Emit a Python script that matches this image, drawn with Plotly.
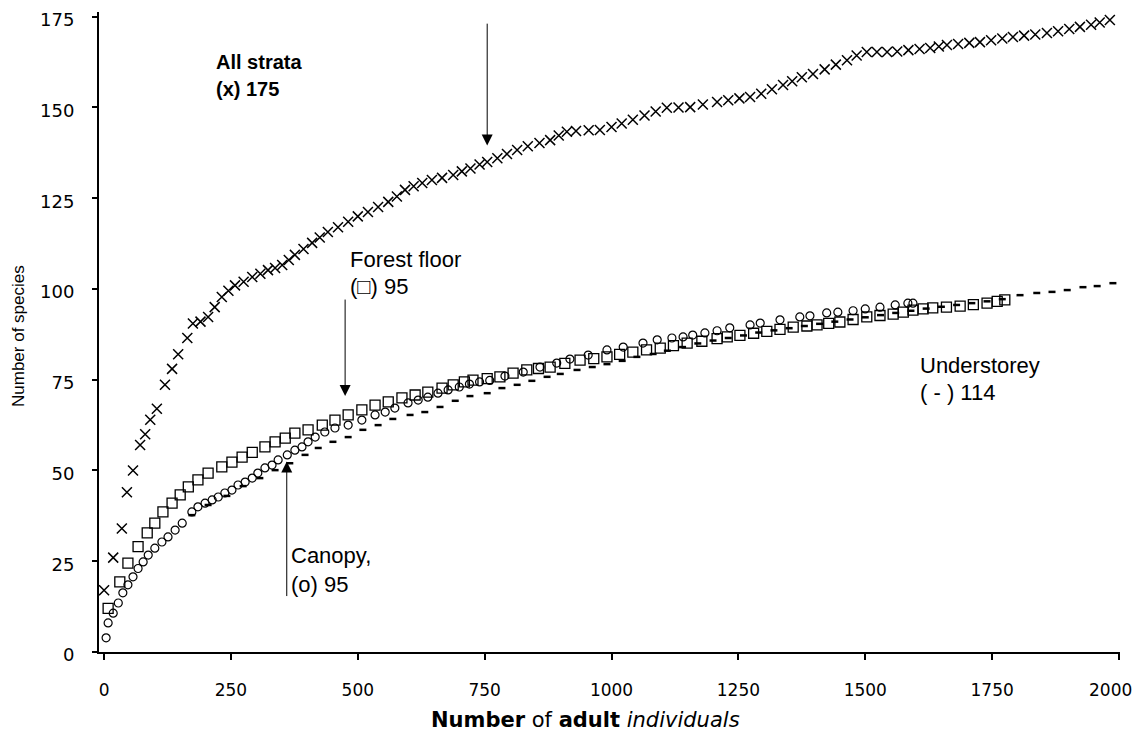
import plotly.graph_objects as go

# ---- data ----
all_x = [0, 18, 35, 45, 57, 71, 81, 91, 104, 120, 134, 146, 164, 175, 190, 205, 218, 232, 245, 258,
         275, 292, 308, 323, 337, 351, 364, 376, 393, 410, 425, 441, 461, 481, 500, 520, 540, 560,
         577, 593, 610, 627, 646, 666, 688, 705, 722, 740, 755, 775, 794, 814, 835, 858, 879, 896,
         912, 930, 955, 977, 1000, 1020, 1042, 1065, 1087, 1109, 1132, 1155, 1180, 1208, 1230,
         1252, 1273, 1295, 1316, 1338, 1356, 1375, 1397, 1420, 1442, 1464, 1483, 1503, 1523, 1543,
         1563, 1585, 1607, 1628, 1645, 1661, 1683, 1705, 1726, 1748, 1770, 1791, 1813, 1835, 1858,
         1880, 1902, 1923, 1945, 1962, 1982]
all_y = [17, 26, 34, 44, 50, 57, 60, 64, 67, 73.6, 78, 82, 86.5, 90.5, 91, 92.3, 95, 97.8, 99.5, 101,
         102, 103.3, 104.2, 105.2, 105.8, 106.6, 108, 109.4, 111, 112.7, 114.2, 115.7, 117, 118.5,
         120, 121.2, 122.6, 124, 125.5, 127.3, 128.3, 129.2, 130, 130.6, 131.4, 132.4, 133.2, 134.3,
         135, 136, 137.2, 138.3, 139.3, 140.2, 141, 142.3, 143.3, 143.5, 143.7, 143.8, 144.6, 145.6,
         146.6, 147.8, 148.9, 149.9, 150, 150.1, 150.8, 151.5, 152, 152.5, 152.9, 153.8, 155, 156.2,
         157.2, 158.3, 159.2, 160.5, 161.8, 163, 164.3, 165.3, 165.3, 165.3, 165.4, 165.8, 166.1,
         166.4, 166.8, 167.2, 167.5, 167.8, 168, 168.5, 169, 169.4, 169.8, 170.1, 170.5, 171, 171.6,
         172.2, 172.8, 173.4, 174.1]

floor_x = [8, 31, 47, 67, 85, 100, 116, 134, 150, 166, 185, 205, 232, 252, 272, 292, 317, 337, 357,
           376, 402, 430, 455, 481, 508, 534, 560, 587, 613, 638, 666, 688, 710, 727, 755, 780, 806,
           833, 856, 879, 908, 938, 965, 991, 1016, 1042, 1069, 1096, 1122, 1149, 1178, 1208, 1228,
           1253, 1280, 1306, 1332, 1358, 1385, 1405, 1428, 1450, 1476, 1503, 1529, 1555, 1575, 1594,
           1614, 1633, 1660, 1687, 1713, 1740, 1760, 1775]
floor_y = [12, 19.3, 24.5, 29, 32.8, 35.5, 38.6, 41, 43.3, 45.5, 47.4, 49.3, 51, 52.3, 53.7, 55, 56.5,
           57.9, 58.9, 60.3, 61.2, 62.5, 63.9, 65.3, 66.7, 68, 68.9, 70, 70.8, 71.6, 72.7, 73.6, 74.4,
           74.9, 75.3, 75.8, 76.8, 77.7, 78.1, 78.5, 79.5, 80.4, 80.8, 81.3, 82, 82.6, 83.2, 83.7, 84.4,
           85.1, 85.6, 86.3, 86.8, 87.2, 87.8, 88.3, 88.9, 89.5, 89.8, 90.1, 90.5, 90.9, 91.6, 92.3,
           92.7, 93.1, 93.6, 94.2, 94.5, 94.8, 95, 95.3, 95.7, 96.1, 96.6, 97]

canopy_x = [4, 8, 18, 28, 37, 47, 57, 67, 77, 87, 100, 114, 126, 140, 154, 173, 185, 199, 213, 225,
            238, 252, 264, 278, 292, 303, 317, 331, 343, 361, 376, 390, 402, 416, 435, 455, 481, 508,
            534, 554, 573, 599, 619, 638, 658, 678, 700, 720, 740, 760, 790, 826, 859, 892, 918, 954,
            991, 1023, 1062, 1090, 1119, 1141, 1160, 1184, 1208, 1233, 1273, 1293, 1332, 1371, 1391,
            1424, 1446, 1476, 1500, 1529, 1559, 1584, 1594]
canopy_y = [3.9, 8, 10.7, 13.5, 16.3, 18.5, 20.7, 23, 24.8, 26.7, 28.6, 30.3, 31.7, 33.6, 35.5, 38.6,
            40, 41, 41.9, 42.7, 43.8, 44.6, 46, 46.8, 47.9, 49.3, 50.7, 51.5, 52.9, 54.3, 55.6, 56.5,
            57.9, 59.2, 60.6, 61.7, 62.5, 63.9, 65.3, 66.1, 67.2, 68.6, 69.4, 70.2, 71.3, 72.2, 73,
            73.8, 74.4, 74.8, 76, 77.1, 78.5, 79.6, 80.7, 81.8, 83.2, 84, 85.1, 86, 86.5, 86.8, 87.3,
            87.9, 88.5, 89.3, 90.1, 90.6, 91.5, 92.3, 92.6, 93.4, 93.6, 94, 94.5, 95, 95.6, 96.1, 96.1]

under_x = [173, 205, 242, 274, 307, 337, 366, 396, 422, 451, 481, 510, 540, 569, 603, 632, 662, 692,
           721, 755, 784, 814, 843, 873, 899, 932, 962, 991, 1021, 1050, 1082, 1110, 1140, 1170, 1200,
           1230, 1260, 1290, 1320, 1350, 1380, 1410, 1440, 1470, 1500, 1530, 1560, 1590, 1620, 1650,
           1680, 1710, 1740, 1770, 1805, 1838, 1868, 1898, 1929, 1957, 1988]
under_y = [37.7, 40.5, 43, 45.7, 47.9, 50.1, 52, 54.3, 56.2, 57.9, 59.2, 61.2, 62.5, 64.2, 65.3, 66.1,
           67.5, 69.2, 70.5, 71.3, 72.7, 73.6, 74.7, 75.8, 76.6, 77.7, 78.5, 79.3, 80.2, 81.3, 82.1,
           83, 84, 85, 85.8, 86.5, 87.2, 88, 88.6, 89.2, 89.8, 90.4, 91, 91.6, 92.2, 92.8, 93.4, 94,
           94.6, 95.1, 95.6, 96.1, 96.6, 97.2, 98.3, 98.9, 99.2, 99.7, 100.5, 100.8, 101.6]

x_ticks = [0, 250, 500, 750, 1000, 1250, 1500, 1750, 2000]
y_ticks = [0, 25, 50, 75, 100, 125, 150, 175]

FONT = "DejaVu Sans"
LFONT = "Liberation Sans"

fig = go.Figure()
fig.add_trace(go.Scatter(x=under_x, y=under_y, mode="markers", name="Understorey",
                         marker=dict(symbol="line-ew", size=5, line=dict(color="black", width=2.5))))
fig.add_trace(go.Scatter(x=canopy_x, y=canopy_y, mode="markers", name="Canopy",
                         marker=dict(symbol="circle-open", size=8, color="black", line=dict(width=1.2))))
fig.add_trace(go.Scatter(x=floor_x, y=floor_y, mode="markers", name="Forest floor",
                         marker=dict(symbol="square-open", size=10, color="black", line=dict(width=1.3))))
fig.add_trace(go.Scatter(x=all_x, y=all_y, mode="markers", name="All strata",
                         marker=dict(symbol="x-thin-open", size=10, color="black", line=dict(width=1.5, color="black"))))

ann = []
def label(x, y, text, size=22, bold=False):
    ann.append(dict(x=x, y=y, xref="x", yref="y", text=("<b>%s</b>" % text) if bold else text,
                    showarrow=False, xanchor="left", yanchor="middle",
                    font=dict(family=LFONT, size=size, color="black")))

label(217, 162.5, "All strata", 20, True)
label(217, 155, "(x) 175", 20, True)
label(480, 108, "Forest floor")
label(480, 100.6, "(□) 95")
label(364, 26.5, "Canopy,")
label(364, 18.5, "(o) 95")
label(1604, 79, "Understorey")
label(1604, 71.5, "( - ) 114")

def arrow(x, y_tail, y_tip):
    ann.append(dict(x=x, y=y_tip, ax=x, ay=y_tail, xref="x", yref="y", axref="x", ayref="y",
                    text="", showarrow=True, arrowhead=2, arrowsize=2.2, arrowwidth=1,
                    arrowcolor="black"))

arrow(755, 173.5, 139.5)
arrow(475, 97.5, 70.5)
arrow(360, 15, 52.5)
arrow(2017, 66.7, 104.5)

# last x tick label placed so it stays inside the page
ann.append(dict(x=x_ticks[-1], y=0, xref="x", yref="paper", text=str(x_ticks[-1]), showarrow=False,
                xanchor="right", yanchor="middle", xshift=15, yshift=-38,
                font=dict(family=FONT, size=17, color="black")))

ann.append(dict(x=0.0, y=0.5, xref="paper", yref="paper", text="Number of species", textangle=-90,
                showarrow=False, xanchor="center", yanchor="middle", xshift=-81, yshift=-4,
                font=dict(family=LFONT, size=17, color="black")))
ann.append(dict(x=0.5, y=0.0, xref="paper", yref="paper",
                text="<b>Number</b> of <b>adult</b> <i>individuals</i>",
                showarrow=False, xanchor="center", yanchor="middle", yshift=-68, xshift=-24,
                font=dict(family=FONT, size=21, color="black")))

# page body has an 8px margin: compensate so the plot area lands where the reference has it
fig.update_layout(
    width=1135, height=725,
    margin=dict(l=91, r=23, t=4, b=81, autoexpand=False),
    paper_bgcolor="white", plot_bgcolor="white",
    showlegend=False,
    annotations=ann,
    font=dict(family=FONT, color="black"),
)
fig.update_xaxes(range=[-10, 2002], tickvals=x_ticks,
                 ticktext=[str(v) for v in x_ticks[:-1]] + [""],
                 showgrid=False, zeroline=False, showline=True, linecolor="black", linewidth=2,
                 ticks="outside", ticklen=6, tickwidth=1.5, tickcolor="black", automargin=False,
                 ticklabeloverflow="allow",
                 ticklabelstandoff=16, tickfont=dict(family=FONT, size=17, color="black"))
fig.update_yaxes(range=[0, 176.3], tickvals=y_ticks, ticktext=[str(v) for v in y_ticks],
                 showgrid=False, zeroline=False, showline=True, linecolor="black", linewidth=2,
                 ticks="outside", ticklen=5, tickwidth=1.5, tickcolor="black", automargin=False,
                 ticklabeloverflow="allow", ticklabelshift=3,
                 ticklabelstandoff=14, tickfont=dict(family=FONT, size=18, color="black"))

fig.write_html("out.html")
